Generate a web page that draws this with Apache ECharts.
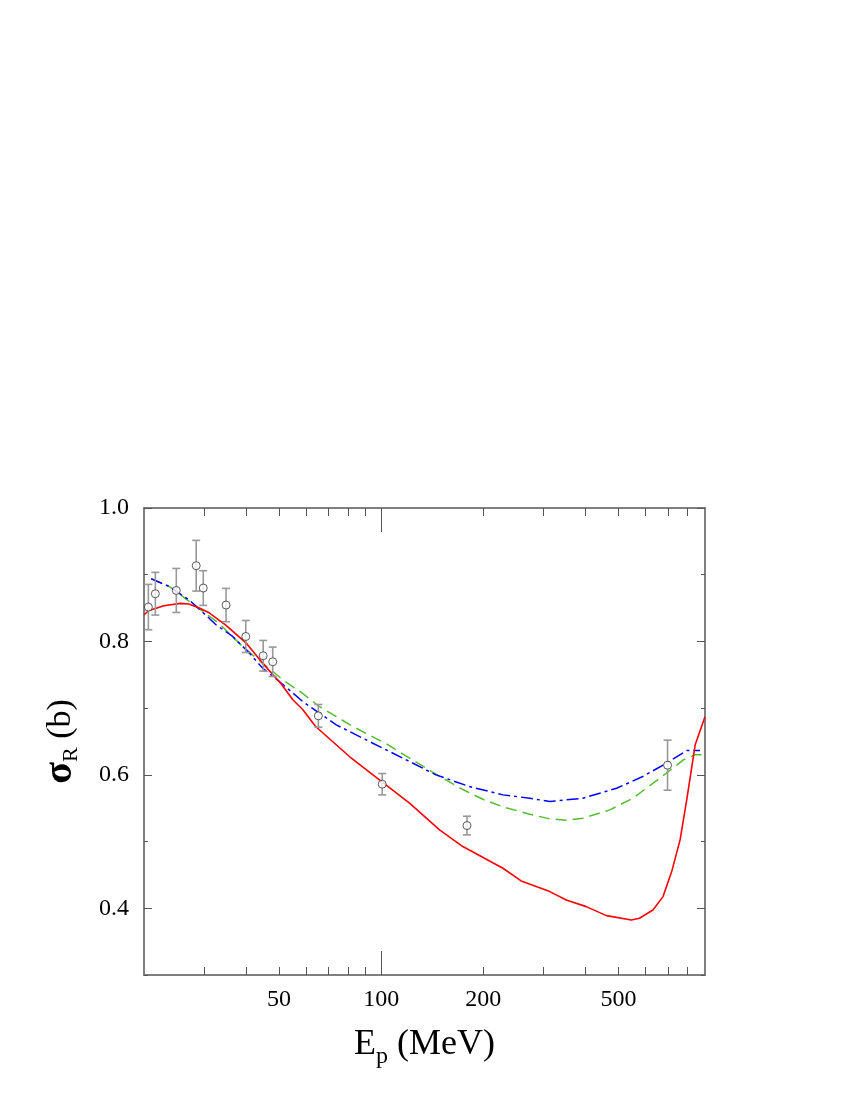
<!DOCTYPE html>
<html>
<head>
<meta charset="utf-8">
<script src="https://cdn.jsdelivr.net/npm/echarts@6/dist/echarts.min.js"></script>
<style>html,body{margin:0;background:#fff}#chart{width:850px;height:1100px}</style>
</head>
<body>
<div id="chart"></div>
<script>
// experimental points (E in MeV, sigma in b, error)
var expE     = [20.6, 21.6, 24.9, 28.5, 29.9, 34.9, 39.9, 44.9, 47.9, 65.3, 100.7, 179, 698];
var expSigma = [0.8515, 0.8715, 0.8764, 0.9135, 0.880, 0.8545, 0.8074, 0.7785, 0.7695, 0.6885, 0.586, 0.524, 0.6145];
var expErr   = [0.034, 0.032, 0.033, 0.038, 0.026, 0.025, 0.024, 0.023, 0.022, 0.017, 0.016, 0.014, 0.0375];

// red solid curve
var redE     = [20, 20.7, 22.9, 25.6, 27.1, 29.1, 31.2, 34.9, 40, 44.7, 50.7, 54.9, 58.7, 64.1, 80.6, 98.8, 121.2,
                148.6, 174, 228.5, 258.5, 314, 351, 402, 461, 546, 577, 632, 677, 718, 760, 795, 842, 900];
var redSigma = [0.840, 0.8465, 0.8535, 0.857, 0.856, 0.850, 0.8425, 0.824, 0.7975, 0.7675, 0.7365, 0.7125, 0.698, 0.6725, 0.6275, 0.5925, 0.5575,
                0.5175, 0.4925, 0.460, 0.441, 0.425, 0.4125, 0.4025, 0.389, 0.3825, 0.385, 0.3975, 0.4175, 0.455, 0.5025, 0.5625, 0.645, 0.687];

// green dashed curve
var greenE     = [21, 23.7, 28.5, 33.4, 39, 44.7, 51.3, 58.7, 65.7, 82.5, 103.5, 124, 145, 174, 200, 228.5, 274, 314, 351, 393, 472, 552, 693, 777, 842, 895];
var greenSigma = [0.894, 0.8825, 0.8525, 0.8265, 0.7925, 0.7675, 0.7425, 0.722, 0.7025, 0.6725, 0.6465, 0.622, 0.601, 0.578, 0.563, 0.552, 0.541, 0.534, 0.532, 0.535, 0.5475, 0.565, 0.6025, 0.6225, 0.630, 0.630];

// blue dash-dot curve
var blueE     = [21, 23.7, 27.1, 29.1, 32.6, 36.5, 40.9, 44.7, 50.1, 58.7, 73.7, 92.3, 115.9, 145, 182, 228.5, 274, 314, 393, 494, 590, 693, 795, 870];
var blueSigma = [0.894, 0.8825, 0.8625, 0.8485, 0.825, 0.8075, 0.7825, 0.760, 0.740, 0.710, 0.675, 0.650, 0.625, 0.600, 0.5825, 0.570, 0.565, 0.560, 0.565, 0.580, 0.5975, 0.6175, 0.6365, 0.6365];

var xLabels = [50, 100, 200, 500];
var xMinorTicks = [30, 40, 50, 60, 70, 80, 90, 200, 300, 400, 500, 600, 700, 800];
var xMajorTicks = [100];
var yLabels = [0.4, 0.6, 0.8, 1.0];
var yMinorTicks = [0.3, 0.5, 0.7, 0.9];

function pairs(xs, ys) {
    var out = [];
    for (var i = 0; i < xs.length; i++) out.push([xs[i], ys[i]]);
    return out;
}
var errData = [];
for (var i = 0; i < expE.length; i++) errData.push([expE[i], expSigma[i], expErr[i]]);

var FONT = '"Liberation Serif", "DejaVu Serif", serif';
var axisLineStyle = {color: '#777', width: 1.5};
var tickStyle = {color: '#555', width: 1};

function xAxisDef(pos, ticks, len, withLabels) {
    return {
        type: 'log', min: 20, max: 900, position: pos,
        splitLine: {show: false},
        axisLine: {show: true, lineStyle: axisLineStyle},
        axisTick: {show: true, inside: true, length: len, customValues: ticks, lineStyle: tickStyle},
        axisLabel: withLabels ? {show: true, customValues: xLabels, margin: 13, fontFamily: FONT, fontSize: 24, color: '#000'} : {show: false},
        name: withLabels ? 'E{sub|p} (MeV)' : '',
        nameLocation: 'middle', nameGap: 46,
        nameTextStyle: {fontFamily: FONT, fontSize: 36, color: '#000',
            rich: {sub: {fontFamily: FONT, fontSize: 24, padding: [24, 0, 0, 0]}}}
    };
}
function yAxisDef(pos, ticks, len, withLabels) {
    return {
        type: 'value', min: 0.3, max: 1.0, position: pos,
        splitLine: {show: false},
        axisLine: {show: true, lineStyle: axisLineStyle},
        axisTick: {show: true, inside: true, length: len, customValues: ticks, lineStyle: tickStyle},
        axisLabel: withLabels ? {show: true, customValues: yLabels, margin: 15, fontFamily: FONT, fontSize: 24, color: '#000',
            formatter: function (v) { return v.toFixed(1); }} : {show: false},
        name: withLabels ? '{s|σ}{sub|R}{t| (b)}' : '',
        nameLocation: 'middle', nameGap: 62, nameRotate: 90,
        nameTextStyle: {fontFamily: FONT, color: '#000',
            rich: {
                s: {fontFamily: FONT, fontSize: 40, fontWeight: 'bold'},
                sub: {fontFamily: FONT, fontSize: 22, padding: [20, 0, 0, 0]},
                t: {fontFamily: FONT, fontSize: 34}
            }}
    };
}

var chart = echarts.init(document.getElementById('chart'), null, {renderer: 'canvas'});
chart.setOption({
    animation: false,
    backgroundColor: '#fff',
    grid: {left: 144, right: 145, top: 508, bottom: 125, containLabel: false},
    xAxis: [
        xAxisDef('bottom', xMinorTicks, 8, true),
        xAxisDef('bottom', xMajorTicks, 24, false),
        xAxisDef('top', xMinorTicks, 8, false),
        xAxisDef('top', xMajorTicks, 24, false)
    ],
    yAxis: [
        yAxisDef('left', yLabels, 8, true),
        yAxisDef('left', yMinorTicks, 4, false),
        yAxisDef('right', yLabels, 8, false),
        yAxisDef('right', yMinorTicks, 4, false)
    ],
    series: [
        {type: 'line', data: pairs(redE, redSigma), showSymbol: false, clip: true,
            lineStyle: {color: '#ff0000', width: 1.6}, z: 3},
        {type: 'line', data: pairs(greenE, greenSigma), showSymbol: false, clip: true,
            lineStyle: {color: '#55bb33', width: 1.5, type: [11, 6]}, z: 2},
        {type: 'line', data: pairs(blueE, blueSigma), showSymbol: false, clip: true,
            lineStyle: {color: '#0000ff', width: 1.5, type: [12, 4, 3, 4]}, z: 2},
        {type: 'custom', data: errData, z: 4,
            renderItem: function (params, api) {
                var x = api.value(0), y = api.value(1), e = api.value(2);
                var top = api.coord([x, y + e]);
                var bot = api.coord([x, y - e]);
                var w = 4;
                var st = {stroke: '#999', lineWidth: 1.6};
                return {type: 'group', children: [
                    {type: 'line', shape: {x1: top[0], y1: top[1], x2: bot[0], y2: bot[1]}, style: st},
                    {type: 'line', shape: {x1: top[0] - w, y1: top[1], x2: top[0] + w, y2: top[1]}, style: st},
                    {type: 'line', shape: {x1: bot[0] - w, y1: bot[1], x2: bot[0] + w, y2: bot[1]}, style: st}
                ]};
            }},
        {type: 'scatter', data: pairs(expE, expSigma), symbol: 'circle', symbolSize: 8, z: 5,
            itemStyle: {color: '#fff', borderColor: '#333', borderWidth: 1}}
    ]
});
</script>
</body>
</html>
